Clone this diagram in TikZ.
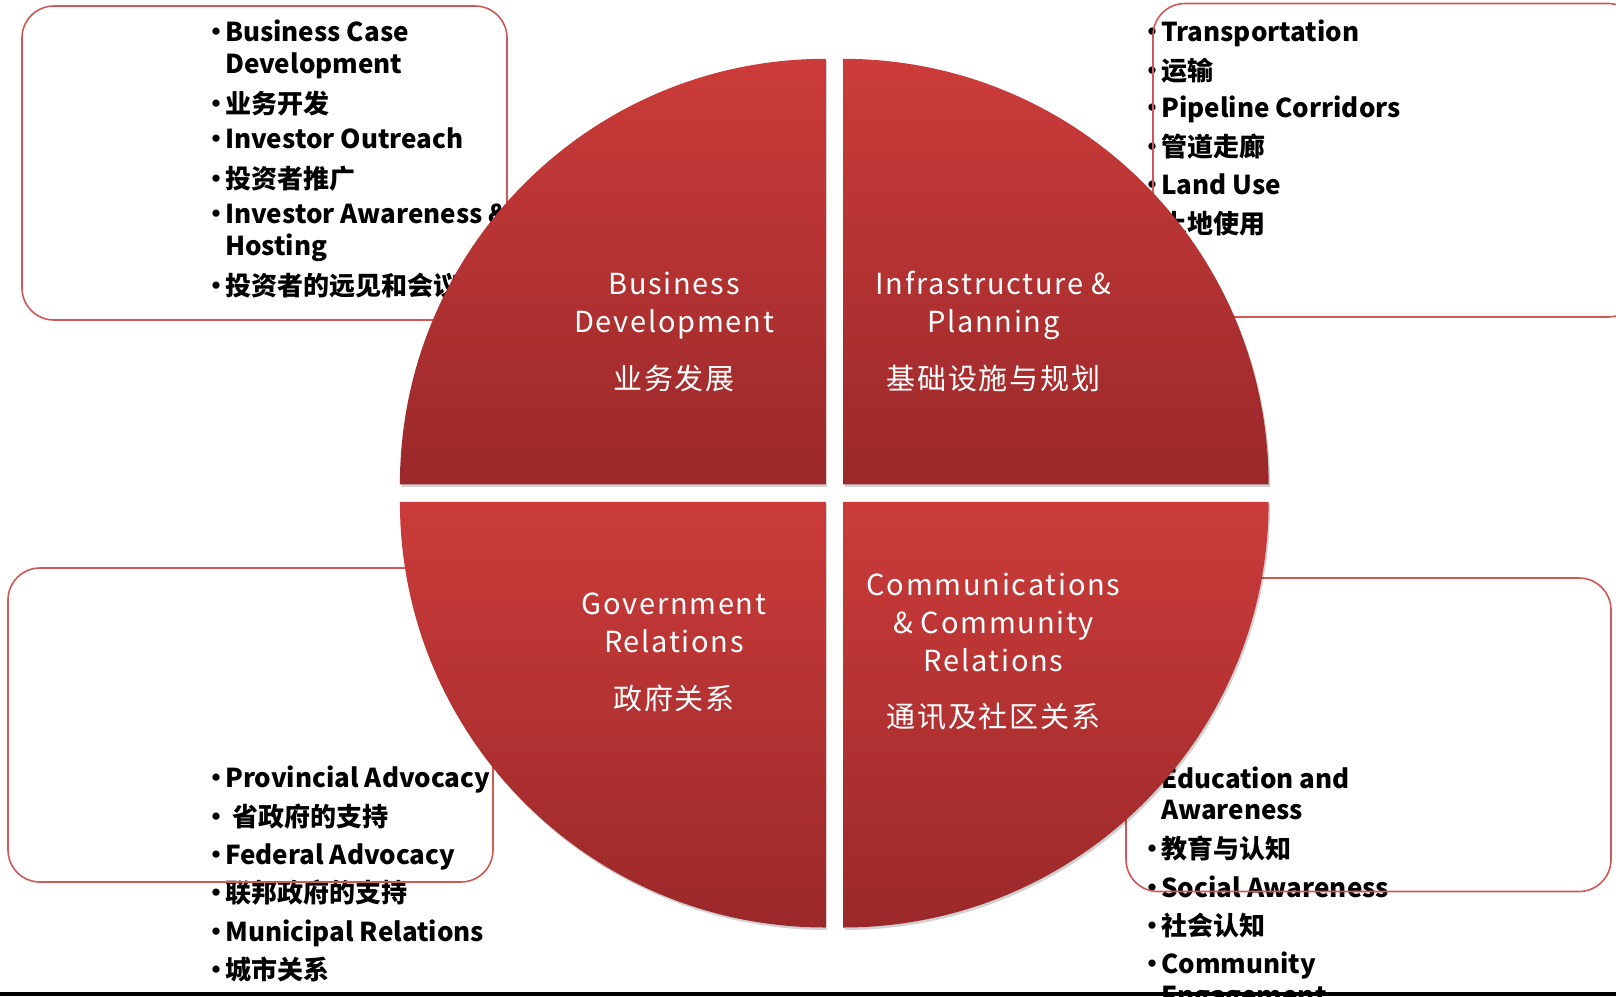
\documentclass[tikz,border=0pt]{standalone}
\usepackage{fontspec}
\setmainfont{Noto Sans CJK SC}
\newfontfamily\listfont{Noto Sans CJK SC}
\newfontfamily\labelfont{Noto Sans CJK SC}[LetterSpace=6]
\definecolor{qtop}{RGB}{203,60,58}
\definecolor{qbot}{RGB}{155,40,42}
\definecolor{boxred}{RGB}{208,88,88}
\tikzset{
  item/.style={anchor=base west, inner sep=0pt, font=\listfont\bfseries\fontsize{26}{30}\selectfont},
  bul/.style={anchor=base, inner sep=0pt, font=\listfont\bfseries\fontsize{26}{30}\selectfont},
  lab/.style={anchor=base, inner sep=0pt, text=white, font=\labelfont\fontsize{29}{34}\selectfont},
  listbox/.style={draw=boxred, line width=1.6pt, rounded corners=32pt},
  quad/.style={top color=qtop, bottom color=qbot},
  qshadow/.style={fill=black, opacity=0.18}
}
\newcommand\listitem[4]{\node[bul] (#1b) at (#2-9,#3) {•}; \node[item] (#1) at (#2,#3) {#4};}
\begin{document}
\begin{tikzpicture}[x=1pt,y=-1pt]
\useasboundingbox (0,0) rectangle (1616,996);
\clip (0,0) rectangle (1616,996);
% ---- list texts
\listitem{tla}{225}{41}{Business Case}
\node[item] (tla2) at (225,73) {Development};
\listitem{tlb}{225}{113}{业务开发}
\listitem{tlc}{225}{148}{Investor Outreach}
\listitem{tld}{225}{188}{投资者推广}
\listitem{tle}{225}{223}{Investor Awareness \&}
\node[item] (tle2) at (225,255) {Hosting};
\listitem{tlf}{225}{295}{投资者的远见和会议}
%
\listitem{tra}{1161}{41}{Transportation}
\listitem{trb}{1161}{80}{运输}
\listitem{trc}{1161}{117}{Pipeline Corridors}
\listitem{trd}{1161}{156}{管道走廊}
\listitem{tre}{1161}{194}{Land Use}
\listitem{trf}{1161}{233}{土地使用}
%
\listitem{bla}{225}{787}{Provincial Advocacy}
\node[bul] (blbb) at (216,826) {•};
\node[item] (blb) at (232,826) {省政府的支持};
\listitem{blc}{225}{864}{Federal Advocacy}
\listitem{bld}{225}{902}{联邦政府的支持}
\listitem{ble}{225}{941}{Municipal Relations}
\listitem{blf}{225}{979}{城市关系}
%
\listitem{bra}{1161}{788}{Education and}
\node[item] (bra2) at (1161,819) {Awareness};
\listitem{brb}{1161}{858}{教育与认知}
\listitem{brc}{1161}{897}{Social Awareness}
\listitem{brd}{1161}{935}{社会认知}
\listitem{bre}{1161}{973}{Community}
\node[item] (bre2) at (1161,1005) {Engagement};
% ---- boxes
\draw[listbox] (22,6) rectangle (507,320);
\draw[listbox] (1153,3.5) rectangle (1640,317);
\draw[listbox] (8,568) rectangle (493,882);
\draw[listbox] (1126,578) rectangle (1611,891.5);
% ---- quadrant shadows
\begin{scope}[shift={(1.5,2.5)}]
\fill[qshadow] (825.5,484.4) -- (399.9,484.4) arc[start angle=180,end angle=270,radius=425.6] -- cycle;
\fill[qshadow] (843,484.4) -- (843,58.8) arc[start angle=270,end angle=360,radius=425.6] -- cycle;
\fill[qshadow] (843,501.9) -- (1268.6,501.9) arc[start angle=0,end angle=90,radius=425.6] -- cycle;
\fill[qshadow] (825.5,501.9) -- (825.5,927.5) arc[start angle=90,end angle=180,radius=425.6] -- cycle;
\end{scope}
% ---- quadrants
\shade[quad] (825.5,484.4) -- (399.9,484.4) arc[start angle=180,end angle=270,radius=425.6] -- cycle;
\shade[quad] (843,484.4) -- (843,58.8) arc[start angle=270,end angle=360,radius=425.6] -- cycle;
\shade[quad] (843,501.9) -- (1268.6,501.9) arc[start angle=0,end angle=90,radius=425.6] -- cycle;
\shade[quad] (825.5,501.9) -- (825.5,927.5) arc[start angle=90,end angle=180,radius=425.6] -- cycle;
% ---- labels
\node[lab] (q1a) at (674,294) {Business};
\node[lab] (q1b) at (674,332) {Development};
\node[lab] (q1c) at (674,389) {业务发展};
\node[lab] (q2a) at (993.5,294) {Infrastructure \&};
\node[lab] (q2b) at (993.5,332) {Planning};
\node[lab] (q2c) at (993.5,389) {基础设施与规划};
\node[lab] (q3a) at (674,614) {Government};
\node[lab] (q3b) at (674,652) {Relations};
\node[lab] (q3c) at (674,709) {政府关系};
\node[lab] (q4a) at (993.5,595) {Communications};
\node[lab] (q4b) at (993.5,633) {\& Community};
\node[lab] (q4c) at (993.5,671) {Relations};
\node[lab] (q4d) at (993.5,727) {通讯及社区关系};
% ---- bottom rule
\fill[black] (0,992) rectangle (1616,996);
\end{tikzpicture}
\end{document}
